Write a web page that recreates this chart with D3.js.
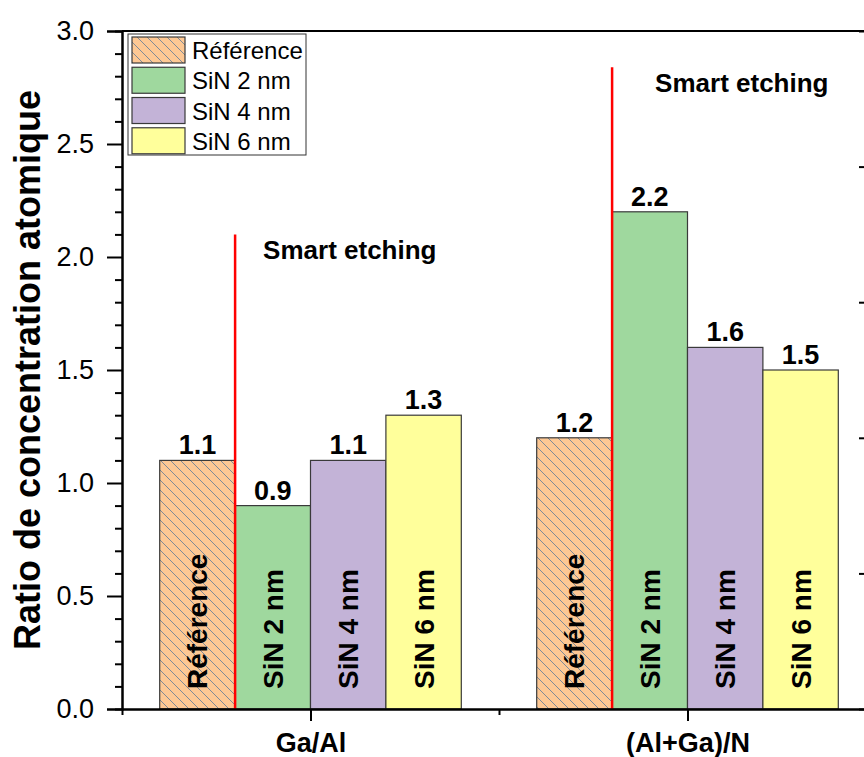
<!DOCTYPE html>
<html>
<head>
<meta charset="utf-8">
<script src="https://cdn.jsdelivr.net/npm/d3@7"></script>
<style>
  html, body { margin: 0; padding: 0; background: #fff; }
  svg { display: block; font-family: "Liberation Sans", Arial, sans-serif; }
</style>
</head>
<body>
<svg id="chart" width="864" height="757"></svg>
<script>
// ---- data ----
const categories = ["Ga/Al", "(Al+Ga)/N"];
const seriesNames = ["Référence", "SiN 2 nm", "SiN 4 nm", "SiN 6 nm"];
const refValues  = [1.1, 1.2];
const sin2Values = [0.9, 2.2];
const sin4Values = [1.1, 1.6];
const sin6Values = [1.3, 1.5];
const yTicks = [0, 0.5, 1.0, 1.5, 2.0, 2.5, 3.0];
const dividerTops = [2.1, 2.84];           // red "Smart etching" lines (y value of top)
const annotationText = "Smart etching";
const yLabel = "Ratio de concentration atomique";

(function () {
const seriesValues = [refValues, sin2Values, sin4Values, sin6Values];
const seriesColors = ["url(#hatch)", "#9FD89E", "#C3B3D7", "#FFFF9B"];
const annotDx = [28, 43];

// ---- layout ----
const svg = d3.select("#chart");
const pLeft = 122, pRight = 876, pTop = 31, pBottom = 709;

const x = d3.scaleLinear().domain([0.5, 2.5]).range([pLeft, pRight]);
const y = d3.scaleLinear().domain([0, 3]).range([pBottom, pTop]);
const barW = 0.2;

// hatch pattern
const defs = svg.append("defs");
const pat = defs.append("pattern").attr("id", "hatch")
  .attr("patternUnits", "userSpaceOnUse").attr("width", 10).attr("height", 10);
pat.append("rect").attr("width", 10).attr("height", 10).attr("fill", "#FDC894");
pat.append("path").attr("d", "M-1,-1 L11,11 M-11,-1 L1,11 M9,-1 L21,11")
  .attr("stroke", "#7E8A98").attr("stroke-width", 1).attr("fill", "none");

// bars
const barData = [];
categories.forEach((c, ci) => {
  seriesNames.forEach((s, si) => {
    barData.push({ cat: ci + 1, si, name: s, v: seriesValues[si][ci] });
  });
});
const bx = d => d.cat + (d.si - 2) * barW;

svg.append("g").selectAll("rect").data(barData).join("rect")
  .attr("x", d => x(bx(d)))
  .attr("width", d => x(bx(d) + barW) - x(bx(d)))
  .attr("y", d => y(d.v))
  .attr("height", d => y(0) - y(d.v))
  .attr("fill", d => seriesColors[d.si])
  .attr("stroke", "#3a3a3a").attr("stroke-width", 1.2);

// value labels
svg.append("g").selectAll("text").data(barData).join("text")
  .attr("x", d => x(bx(d) + barW / 2))
  .attr("y", d => y(d.v) - 6)
  .attr("text-anchor", "middle")
  .attr("font-weight", "bold").attr("font-size", 27)
  .text(d => d3.format(".1f")(d.v));

// in-bar labels
svg.append("g").selectAll("text").data(barData).join("text")
  .attr("transform", d => `translate(${x(bx(d) + barW / 2)},${y(0) - 20}) rotate(-90)`)
  .attr("text-anchor", "start")
  .attr("dy", "0.36em")
  .attr("font-weight", "bold").attr("font-size", 28)
  .text(d => d.name);

// red divider lines
categories.forEach((c, ci) => {
  const xv = ci + 1 - barW;
  svg.append("line")
    .attr("x1", x(xv)).attr("x2", x(xv))
    .attr("y1", y(0)).attr("y2", y(dividerTops[ci]))
    .attr("stroke", "#FF0000").attr("stroke-width", 2.5);
  svg.append("text")
    .attr("x", x(xv) + annotDx[ci])
    .attr("y", y(dividerTops[ci]) + 25)
    .attr("font-weight", "bold").attr("font-size", 26)
    .text(annotationText);
});

// axes
const axisStyle = g => {
  g.selectAll("path").attr("stroke", "#000").attr("stroke-width", 2);
  g.selectAll("line").attr("stroke", "#000").attr("stroke-width", 2);
};

// left minor ticks
const yMinor = d3.range(0, 3.0001, 0.1).filter(v => Math.abs(v * 2 - Math.round(v * 2)) > 1e-6);
svg.append("g").attr("transform", `translate(${pLeft},0)`)
  .call(d3.axisLeft(y).tickValues(yMinor).tickSize(7).tickFormat(""))
  .call(axisStyle);
// left major
svg.append("g").attr("transform", `translate(${pLeft},0)`)
  .call(d3.axisLeft(y).tickValues(yTicks).tickSize(15).tickPadding(13).tickFormat(d3.format(".1f")))
  .call(axisStyle)
  .call(g => g.selectAll("text").attr("font-size", 27).attr("fill", "#000").attr("font-family", "Liberation Sans, Arial, sans-serif"));

// bottom minor
svg.append("g").attr("transform", `translate(0,${pBottom})`)
  .call(d3.axisBottom(x).tickValues([0.5, 1.5, 2.5]).tickSize(6).tickFormat("").tickSizeOuter(0))
  .call(axisStyle);
// bottom major
svg.append("g").attr("transform", `translate(0,${pBottom})`)
  .call(d3.axisBottom(x).tickValues([1, 2]).tickSize(12).tickSizeOuter(0)
    .tickFormat((d, i) => categories[i]).tickPadding(12))
  .call(axisStyle)
  .call(g => g.selectAll("text").attr("font-size", 27).attr("font-weight", "bold")
    .attr("fill", "#000").attr("font-family", "Liberation Sans, Arial, sans-serif"));

// top line
svg.append("line").attr("x1", pLeft).attr("x2", pRight).attr("y1", pTop).attr("y2", pTop)
  .attr("stroke", "#000").attr("stroke-width", 2);
// right axis (ticks only, inward)
const yRight = d3.scaleLinear().domain([0, 5]).range([pBottom, pTop]);
svg.append("g").attr("transform", `translate(${pRight},0)`)
  .call(d3.axisLeft(yRight).ticks(5).tickSize(17).tickFormat("").tickSizeOuter(0))
  .call(axisStyle);

// y-axis title
svg.append("text")
  .attr("transform", `translate(40,${(pTop + pBottom) / 2}) rotate(-90)`)
  .attr("text-anchor", "middle")
  .attr("font-weight", "bold").attr("font-size", 36)
  .text(yLabel);

// legend
const lg = svg.append("g");
lg.append("rect").attr("x", 128).attr("y", 34).attr("width", 178).attr("height", 121)
  .attr("fill", "#fff").attr("stroke", "#333").attr("stroke-width", 1);
const rowY = d3.scaleBand().domain(seriesNames).range([37, 155]).paddingInner(0.1).paddingOuter(0);
seriesNames.forEach((s, i) => {
  lg.append("rect").attr("x", 132).attr("y", rowY(s)).attr("width", 53).attr("height", 26)
    .attr("fill", seriesColors[i]).attr("stroke", "#3a3a3a").attr("stroke-width", 1.2);
  lg.append("text").attr("x", 192).attr("y", rowY(s) + 22)
    .attr("font-size", 24).text(s);
});
})();
</script>
</body>
</html>
